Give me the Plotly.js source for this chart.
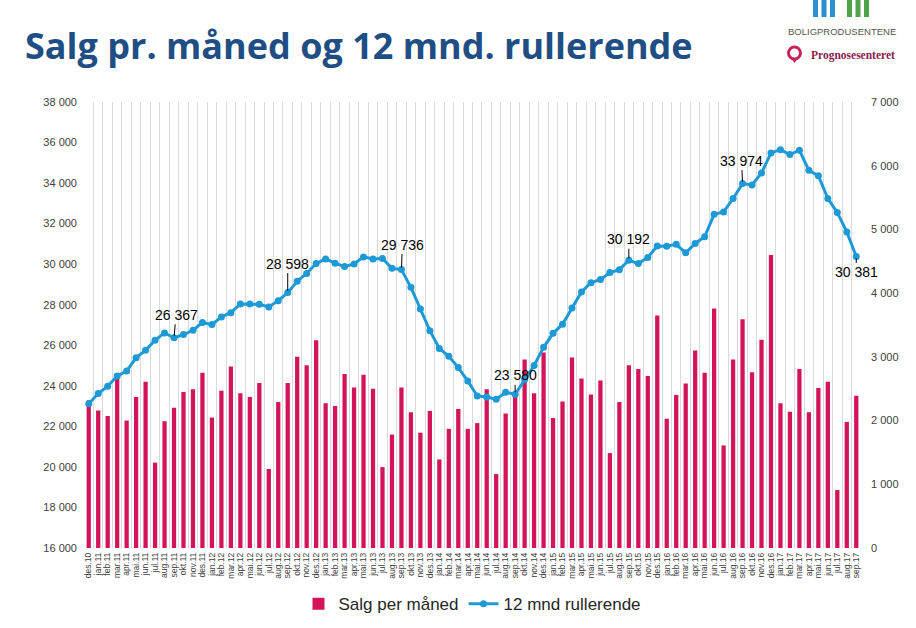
<!DOCTYPE html>
<html>
<head>
<meta charset="utf-8">
<script src="https://cdn.plot.ly/plotly-3.0.1.min.js"></script>
<style>
  html, body { margin: 0; padding: 0; background: #fff; }
  #chart { width: 916px; height: 628px; }
</style>
</head>
<body>
<div id="chart"></div>
<script>
// ---- Data ----
const months = [
  "des.10",
  "jan.11","feb.11","mar.11","apr.11","mai.11","jun.11","jul.11","aug.11","sep.11","okt.11","nov.11","des.11",
  "jan.12","feb.12","mar.12","apr.12","mai.12","jun.12","jul.12","aug.12","sep.12","okt.12","nov.12","des.12",
  "jan.13","feb.13","mar.13","apr.13","mai.13","jun.13","jul.13","aug.13","sep.13","okt.13","nov.13","des.13",
  "jan.14","feb.14","mar.14","apr.14","mai.14","jun.14","jul.14","aug.14","sep.14","okt.14","nov.14","des.14",
  "jan.15","feb.15","mar.15","apr.15","mai.15","jun.15","jul.15","aug.15","sep.15","okt.15","nov.15","des.15",
  "jan.16","feb.16","mar.16","apr.16","mai.16","jun.16","jul.16","aug.16","sep.16","okt.16","nov.16","des.16",
  "jan.17","feb.17","mar.17","apr.17","mai.17","jun.17","jul.17","aug.17","sep.17"
];

const salgPerManed = [
  2320,
  2160, 2070, 2680, 2000, 2370, 2610, 1340, 1990, 2200, 2450, 2490, 2750,
  2050, 2470, 2850, 2430, 2370, 2590, 1240, 2290, 2590, 3000, 2870, 3260,
  2270, 2230, 2730, 2520, 2720, 2500, 1270, 1780, 2520, 2130, 1810, 2150,
  1390, 1870, 2180, 1870, 1960, 2490, 1160, 2110, 2400, 2960, 2430, 3070,
  2040, 2300, 2990, 2660, 2410, 2630, 1490, 2290, 2870, 2810, 2700, 3650,
  2030, 2400, 2580, 3100, 2750, 3760, 1610, 2960, 3590, 2760, 3270, 4600,
  2270, 2140, 2810, 2130, 2510, 2610, 910, 1980, 2390
];

const rullerende12 = [
  23120,
  23620, 23980, 24490, 24730, 25390, 25750, 26250, 26610, 26367, 26530, 26740, 27120,
  27020, 27400, 27610, 28040, 28040, 28020, 27890, 28200, 28598, 29160, 29540, 30030,
  30260, 30050, 29880, 30010, 30360, 30260, 30280, 29800, 29736, 28860, 27790, 26720,
  25840, 25460, 24900, 24240, 23500, 23450, 23340, 23680, 23580, 24310, 25000, 25900,
  26590, 27040, 27840, 28630, 29090, 29240, 29590, 29730, 30192, 30030, 30330, 30900,
  30880, 30980, 30560, 31020, 31350, 32460, 32580, 33240, 33974, 33910, 34500, 35490,
  35650, 35410, 35620, 34630, 34360, 33240, 32550, 31590, 30381
];

// indices of the labelled points on the rolling line
const labelledIdx = [9, 21, 33, 45, 57, 69, 81];

const leftTicks = [16000, 18000, 20000, 22000, 24000, 26000, 28000, 30000, 32000, 34000, 36000, 38000];
const rightTicks = [0, 1000, 2000, 3000, 4000, 5000, 6000, 7000];

const seriesNames = ["Salg per måned", "12 mnd rullerende"];
const titleText = "Salg pr. måned og 12 mnd. rullerende";

// ---- Styling / layout ----
const fmt = v => String(v).replace(/\B(?=(\d{3})+(?!\d))/g, " ");
const W = 916, H = 628;
const plotL = 84, plotR = 861, plotT = 102, plotB = 548;
const px = x => (x - plotL) / (plotR - plotL);
const py = y => (plotB - y) / (plotB - plotT);

const barColor = "#d4145a";
const lineColor = "#1d9ad6";
const sansFamily = "Liberation Sans, Arial, sans-serif";
const axisFont = { family: sansFamily, size: 11, color: "#404040" };

const traces = [
  {
    type: "bar",
    name: seriesNames[0],
    x: months,
    y: salgPerManed,
    yaxis: "y",
    marker: { color: barColor },
    hoverinfo: "x+y"
  },
  {
    type: "scatter",
    mode: "lines+markers",
    name: seriesNames[1],
    x: months,
    y: rullerende12,
    yaxis: "y2",
    line: { color: lineColor, width: 3 },
    marker: { color: lineColor, size: 7 },
    hoverinfo: "x+y"
  }
];

// label offsets (pixels) for the value annotations
const labelOffsets = [[2, -23], [0, -29], [1, -25], [0, -19], [0, -21], [-1, -23], [0, 16]];

const annotations = labelledIdx.map((i, k) => ({
  x: months[i],
  y: rullerende12[i],
  xref: "x",
  yref: "y2",
  text: fmt(rullerende12[i]),
  showarrow: true,
  arrowhead: 0,
  arrowwidth: 1,
  arrowcolor: "#000",
  standoff: 2,
  ax: labelOffsets[k][0],
  ay: labelOffsets[k][1],
  font: { family: sansFamily, size: 14, color: "#000" }
}));

// logo texts
annotations.push({
  xref: "paper", yref: "paper",
  x: px(842), y: py(31.5),
  xanchor: "center", yanchor: "middle",
  text: "BOLIGPRODUSENTENE",
  showarrow: false,
  font: { family: sansFamily, size: 9.5, color: "#555" }
});
annotations.push({
  xref: "paper", yref: "paper",
  x: px(809), y: py(55),
  xanchor: "left", yanchor: "middle",
  text: "<b>Prognosesenteret</b>",
  showarrow: false,
  font: { family: "Liberation Serif, DejaVu Serif, serif", size: 11.5, color: "#8a1c4c" }
});

const shapes = [];
// logo bars
[[813, 818], [821.5, 826.5], [830, 835]].forEach(b => shapes.push({
  type: "rect", xref: "paper", yref: "paper",
  x0: px(b[0]), x1: px(b[1]), y0: py(17), y1: py(-2),
  fillcolor: "#2b8fd1", line: { width: 0 }
}));
[[847, 852], [855.5, 860.5], [864, 869]].forEach(b => shapes.push({
  type: "rect", xref: "paper", yref: "paper",
  x0: px(b[0]), x1: px(b[1]), y0: py(17), y1: py(-2),
  fillcolor: "#4ea24a", line: { width: 0 }
}));
// pin icon
shapes.push({
  type: "circle", xref: "paper", yref: "paper",
  x0: px(788.5), x1: px(800.5), y0: py(59), y1: py(47),
  fillcolor: "rgba(0,0,0,0)", line: { color: "#c8235a", width: 3 }
});
shapes.push({
  type: "path", xref: "paper", yref: "paper",
  path: `M ${px(791)} ${py(58)} L ${px(798)} ${py(58)} L ${px(794.5)} ${py(63)} Z`,
  fillcolor: "#c8235a", line: { width: 0 }
});

const layout = {
  width: W,
  height: H,
  paper_bgcolor: "#fff",
  plot_bgcolor: "#fff",
  margin: { l: plotL, r: W - plotR, t: plotT, b: H - plotB, pad: 0, autoexpand: false },
  separators: ", ",
  bargap: 0.55,
  showlegend: true,
  title: {
    text: "<b>" + titleText + "</b>",
    xref: "container", yref: "container",
    x: 25 / W, xanchor: "left",
    y: 1 - 46 / H, yanchor: "middle",
    font: { family: "Open Sans, sans-serif", size: 36, color: "#1f4e84" }
  },
  xaxis: {
    type: "category",
    range: [-0.5, months.length - 0.5],
    tickmode: "array",
    tickvals: months,
    ticktext: months,
    tickson: "boundaries",
    showgrid: true,
    gridcolor: "#d9d9d9",
    gridwidth: 1,
    tickangle: -90,
    ticks: "",
    ticklabelstandoff: 2,
    tickfont: { family: sansFamily, size: 8.5, color: "#404040" },
    showline: false,
    automargin: false,
    fixedrange: true
  },
  yaxis: {
    side: "right",
    range: [0, 7000],
    tickvals: rightTicks,
    tickformat: ",d",
    showgrid: false,
    zeroline: false,
    ticks: "",
    ticklabelstandoff: 9,
    tickfont: axisFont,
    automargin: false,
    fixedrange: true
  },
  yaxis2: {
    overlaying: "y",
    side: "left",
    range: [16000, 38000],
    tickvals: leftTicks,
    tickformat: ",d",
    showgrid: false,
    zeroline: false,
    ticks: "",
    ticklabelstandoff: 6,
    tickfont: axisFont,
    automargin: false,
    fixedrange: true
  },
  legend: {
    orientation: "h",
    x: 0.5, xanchor: "center",
    y: -0.126, yanchor: "middle",
    font: { family: sansFamily, size: 17, color: "#262626" },
    traceorder: "normal"
  },
  annotations: annotations,
  shapes: shapes
};

Plotly.newPlot("chart", traces, layout, { displayModeBar: false, staticPlot: true });
</script>
</body>
</html>
